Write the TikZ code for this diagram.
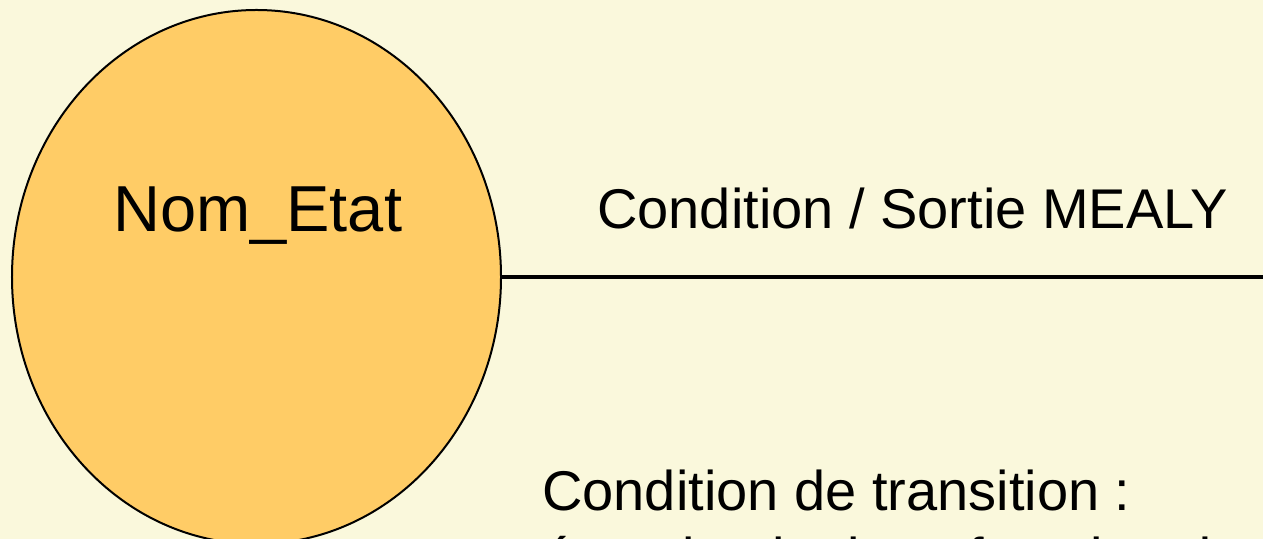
\documentclass[tikz,border=0pt]{standalone}
\usepackage{fontspec}
\setmainfont{Liberation Sans}
\usetikzlibrary{shapes.geometric}
\definecolor{bg}{RGB}{250,248,220}
\definecolor{statefill}{RGB}{255,204,102}
\tikzset{
  statenode/.style={ellipse, draw=black, line width=2bp, fill=statefill, inner sep=0pt,
    minimum width=489bp, minimum height=534bp},
  bigtext/.style={anchor=base west, inner sep=0pt, font=\fontsize{56bp}{67bp}\selectfont},
  nametext/.style={anchor=base west, inner sep=0pt, font=\fontsize{65bp}{78bp}\selectfont},
  link/.style={line width=3.5bp, draw=black}
}
\begin{document}
\begin{tikzpicture}[x=1bp,y=-1bp]
\useasboundingbox (0,0) rectangle (1263,539);
\clip (0,0) rectangle (1263,539);
\fill[bg] (0,0) rectangle (1263,539);
\node[statenode] (etat) at (256.5,277) {};
\node[nametext] (nom) at (113,232) {Nom\_Etat};
\coordinate (fin) at (1264,277);
\draw[link] (etat.east) -- (fin);
\node[bigtext] (lbl) at (597,229) {Condition / Sortie MEALY};
\node[bigtext, align=left, anchor=north west] (cond) at (542,470) {Condition de transition :\\équation logique fonction des entrées};
\end{tikzpicture}
\end{document}
